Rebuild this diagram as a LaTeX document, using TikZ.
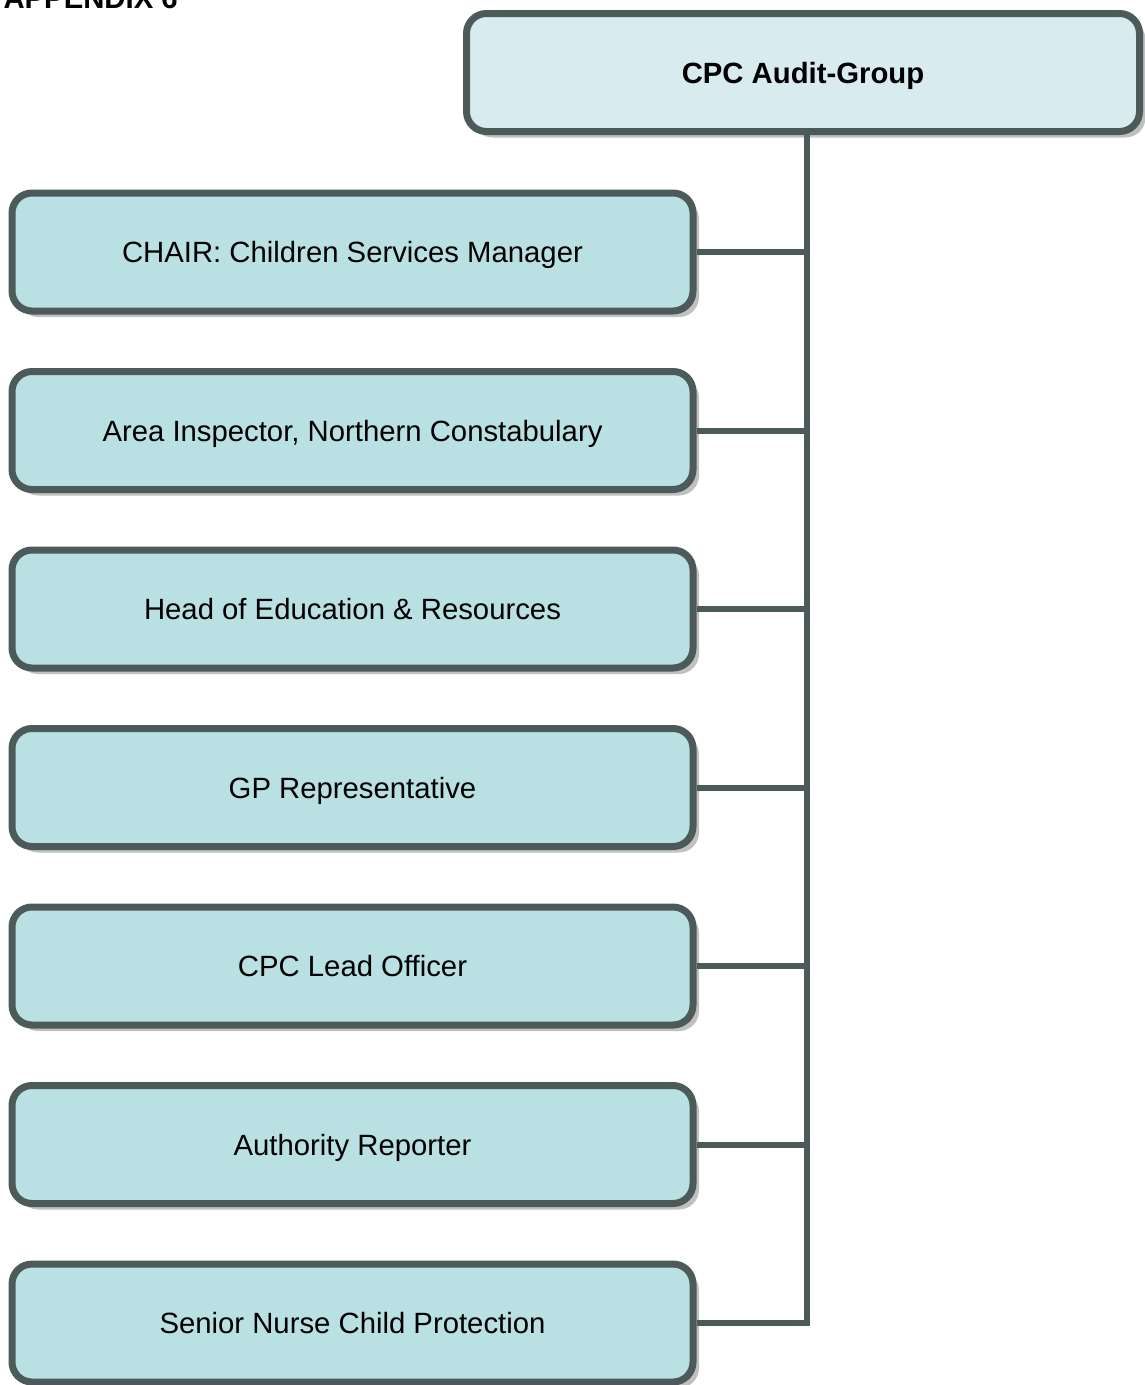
\documentclass[tikz,border=0pt]{standalone}
\usepackage{fontspec}
\setmainfont{Liberation Sans}
\usetikzlibrary{shadows}
\definecolor{boxline}{RGB}{77,90,90}
\definecolor{boxfill}{RGB}{185,224,227}
\definecolor{headfill}{RGB}{216,236,239}
\definecolor{boxshade}{RGB}{192,192,192}
\begin{document}
\begin{tikzpicture}[x=1pt,y=-1pt,
    member/.style={draw=boxline,fill=boxfill,line width=7pt,rounded corners=20pt,
      minimum width=681pt,minimum height=118pt,inner sep=0pt,
      text height=21pt,text depth=0pt,
      font=\fontsize{29.3}{35}\selectfont,
      drop shadow={shadow xshift=6pt,shadow yshift=-6pt,fill=boxshade,opacity=1}},
    head/.style={member,fill=headfill,minimum width=673pt,font=\fontsize{29.3}{35}\selectfont\bfseries},
    link/.style={draw=boxline,line width=6pt}]
        \useasboundingbox (0,0) rectangle (1145,1385);
        \node [anchor=base west,font=\fontsize{29.3}{35}\selectfont\bfseries] (appendix) at (0,8) {APPENDIX 6};
        \node [head] (group) at (803,72.5) {CPC Audit-Group};
        \node [member] (chair) at (352.5,252) {CHAIR: Children Services Manager};
        \node [member] (police) at (352.5,430.5) {Area Inspector, Northern Constabulary};
        \node [member] (education) at (352.5,609) {Head of Education \& Resources};
        \node [member] (gp) at (352.5,787.5) {GP Representative};
        \node [member] (cpc) at (352.5,966) {CPC Lead Officer};
        \node [member] (reporter) at (352.5,1144.5) {Authority Reporter};
        \node [member] (nurse) at (352.5,1323) {Senior Nurse Child Protection};
        \coordinate (trunk) at (807,1323);
        \draw [link,line join=miter] (group.south -| trunk) -- (trunk) -- (nurse.east);
        \draw [link] (chair.east) -- (chair.east -| trunk);
        \draw [link] (police.east) -- (police.east -| trunk);
        \draw [link] (education.east) -- (education.east -| trunk);
        \draw [link] (gp.east) -- (gp.east -| trunk);
        \draw [link] (cpc.east) -- (cpc.east -| trunk);
        \draw [link] (reporter.east) -- (reporter.east -| trunk);
\end{tikzpicture}
\end{document}
